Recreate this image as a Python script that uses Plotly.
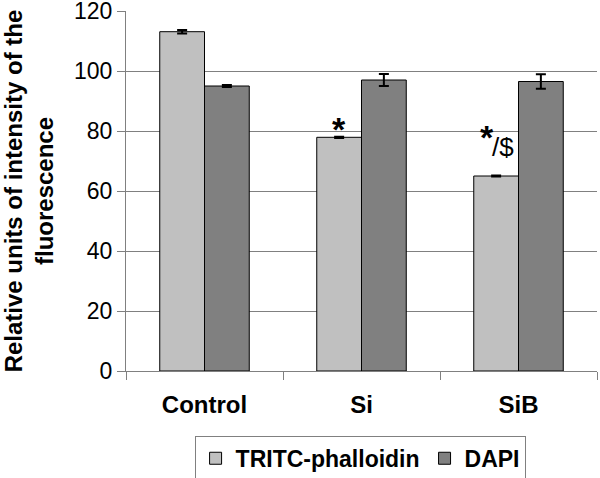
import plotly.graph_objects as go

categories = ["Control", "Si", "SiB"]
tritc = [113.1, 77.9, 65.0]
tritc_err = [0.6, 0.2, 0.2]
dapi = [95.0, 97.0, 96.5]
dapi_err = [0.3, 2.0, 2.4]
y_ticks = [0, 20, 40, 60, 80, 100, 120]
grid_vals = [20, 40, 60, 80, 100]

FONT = "Liberation Sans, Arial, sans-serif"

fig = go.Figure()
fig.add_trace(go.Bar(
    name="TRITC-phalloidin", x=categories, y=tritc,
    marker=dict(color="#C0C0C0", line=dict(color="#000000", width=1)),
    error_y=dict(type="data", array=tritc_err, color="#000000", thickness=2, width=5),
))
fig.add_trace(go.Bar(
    name="DAPI", x=categories, y=dapi,
    marker=dict(color="#808080", line=dict(color="#000000", width=1)),
    error_y=dict(type="data", array=dapi_err, color="#000000", thickness=2, width=5),
))
fig.add_trace(go.Scatter(x=categories, y=[None]*3, yaxis="y2", showlegend=False, hoverinfo="skip"))

fig.update_layout(
    width=600, height=478,
    margin=dict(l=126, r=3, t=11, b=107, autoexpand=False),
    paper_bgcolor="white", plot_bgcolor="white",
    barmode="group", bargap=0.43, bargroupgap=0,
    font=dict(family=FONT, size=23, color="#000000"),
    showlegend=True,
    legend=dict(
        orientation="h", x=0.497, xanchor="center", y=-0.18, yanchor="top",
        bordercolor="#808080", borderwidth=1,
        font=dict(family=FONT, size=23, color="#000000", weight="bold"),
        itemwidth=30, tracegroupgap=0,
    ),
    xaxis=dict(
        showgrid=False, showline=True, linecolor="#808080", linewidth=1,
        ticks="outside", ticklen=8, tickcolor="#808080", tickson="boundaries",
        tickfont=dict(family=FONT, size=24, color="#000000", weight="bold"),
        ticklabelstandoff=12, automargin=False,
    ),
    yaxis=dict(
        range=[0, 120], tickvals=y_ticks, showgrid=False, zeroline=False,
        showline=True, linecolor="#808080", linewidth=1,
        ticks="outside", ticklen=8, tickcolor="#808080",
        tickfont=dict(family=FONT, size=23, color="#000000"),
        ticklabeloverflow="allow",
        automargin=False,
        title=dict(text="Relative units of intensity of the<br>fluorescence",
                   font=dict(family=FONT, size=24, color="#000000", weight="bold"),
                   standoff=18),
    ),
    yaxis2=dict(
        overlaying="y", matches="y", range=[0, 120], tickvals=grid_vals,
        showgrid=True, gridcolor="#808080", gridwidth=1,
        showticklabels=False, showline=False, zeroline=False, ticks="",
    ),
)

fig.add_annotation(x="Si", y=tritc[1], xref="x", yref="y", xshift=-23, yshift=-13,
                   text="<b>*</b>", showarrow=False, yanchor="bottom",
                   font=dict(family=FONT, size=34, color="#000000"))
fig.add_annotation(x="SiB", y=tritc[2], xref="x", yref="y", xshift=-32, yshift=18,
                   text="<b>*</b>", showarrow=False, yanchor="bottom",
                   font=dict(family=FONT, size=34, color="#000000"))
fig.add_annotation(x="SiB", y=tritc[2], xref="x", yref="y", xshift=-16, yshift=12,
                   text="/$", showarrow=False, yanchor="bottom",
                   font=dict(family=FONT, size=26, color="#000000"))

fig.write_html("out.html", config={"displayModeBar": False},
               post_script="document.body.style.margin='0';")
